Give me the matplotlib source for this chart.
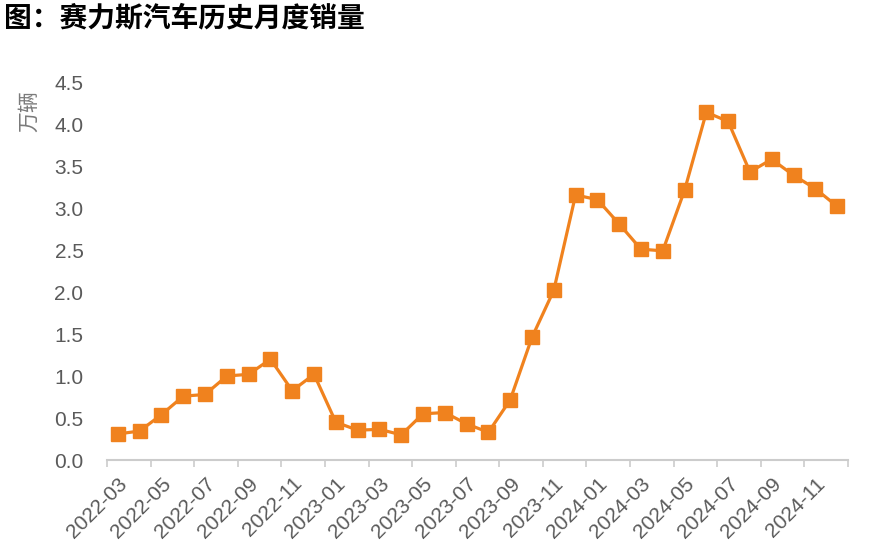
import matplotlib
matplotlib.use("Agg")
import matplotlib.pyplot as plt
import numpy as np

plt.rcParams['font.family'] = ['Noto Sans CJK SC', 'DejaVu Sans']

# monthly sales, 10k units
months = ['2022-03', '2022-04', '2022-05', '2022-06', '2022-07', '2022-08',
          '2022-09', '2022-10', '2022-11', '2022-12', '2023-01', '2023-02',
          '2023-03', '2023-04', '2023-05', '2023-06', '2023-07', '2023-08',
          '2023-09', '2023-10', '2023-11', '2023-12', '2024-01', '2024-02',
          '2024-03', '2024-04', '2024-05', '2024-06', '2024-07', '2024-08',
          '2024-09', '2024-10', '2024-11', '2024-12']
sales = [0.31, 0.345, 0.54, 0.76, 0.78, 1.00,
         1.02, 1.20, 0.825, 1.02, 0.45, 0.355,
         0.365, 0.30, 0.55, 0.565, 0.43, 0.33,
         0.715, 1.46, 2.02, 3.155, 3.10, 2.81,
         2.51, 2.49, 3.21, 4.14, 4.03, 3.43,
         3.58, 3.39, 3.23, 3.02]

title = '图：赛力斯汽车历史月度销量'
ylabel = '万辆'
yticks = [0.0, 0.5, 1.0, 1.5, 2.0, 2.5, 3.0, 3.5, 4.0, 4.5]

orange = '#F0821E'
gray_text = '#5a5a5a'
tick_font = ['Liberation Sans', 'DejaVu Sans']

fig = plt.figure(figsize=(8.78, 5.43), dpi=100)
ax = fig.add_axes([107 / 878, 83 / 543, 741 / 878, 378 / 543])

x = np.arange(len(months))
ax.plot(x, sales, color=orange, lw=2.3, marker='s', ms=9.5,
        markerfacecolor=orange, markeredgecolor=orange, zorder=3)

ax.set_xlim(-0.5, len(months) - 0.5)
ax.set_ylim(0, 4.5)

ax.set_yticks(yticks)
ax.set_yticklabels(['%.1f' % v for v in yticks])
ax.tick_params(axis='y', length=0, pad=17, labelsize=15, labelcolor=gray_text)
for lab in ax.get_yticklabels():
    lab.set_family(tick_font)

# labels on every second month, tick marks on category boundaries
ax.set_xticks(x[::2])
ax.set_xticklabels(months[::2], rotation=45, ha='right', rotation_mode='anchor')
ax.tick_params(axis='x', which='major', length=0, pad=10, labelsize=15,
               labelcolor=gray_text)
for lab in ax.get_xticklabels():
    lab.set_family(tick_font)
ax.set_xticks(np.arange(-0.5, len(months), 2), minor=True)
ax.tick_params(axis='x', which='minor', length=5, width=1.2, color='#CCCCCC')

for s in ['top', 'right', 'left']:
    ax.spines[s].set_visible(False)
ax.spines['bottom'].set_color('#CCCCCC')
ax.spines['bottom'].set_linewidth(1.5)

fig.text(29 / 878, 1 - 111 / 543, ylabel, rotation=90, ha='center', va='center',
         fontsize=15, color='#7a7a7a')
fig.text(4 / 878, 1 - 18 / 543, title, ha='left', va='center',
         fontsize=20, fontweight='bold', color='#000000')

fig.savefig('out.png', dpi=100)
